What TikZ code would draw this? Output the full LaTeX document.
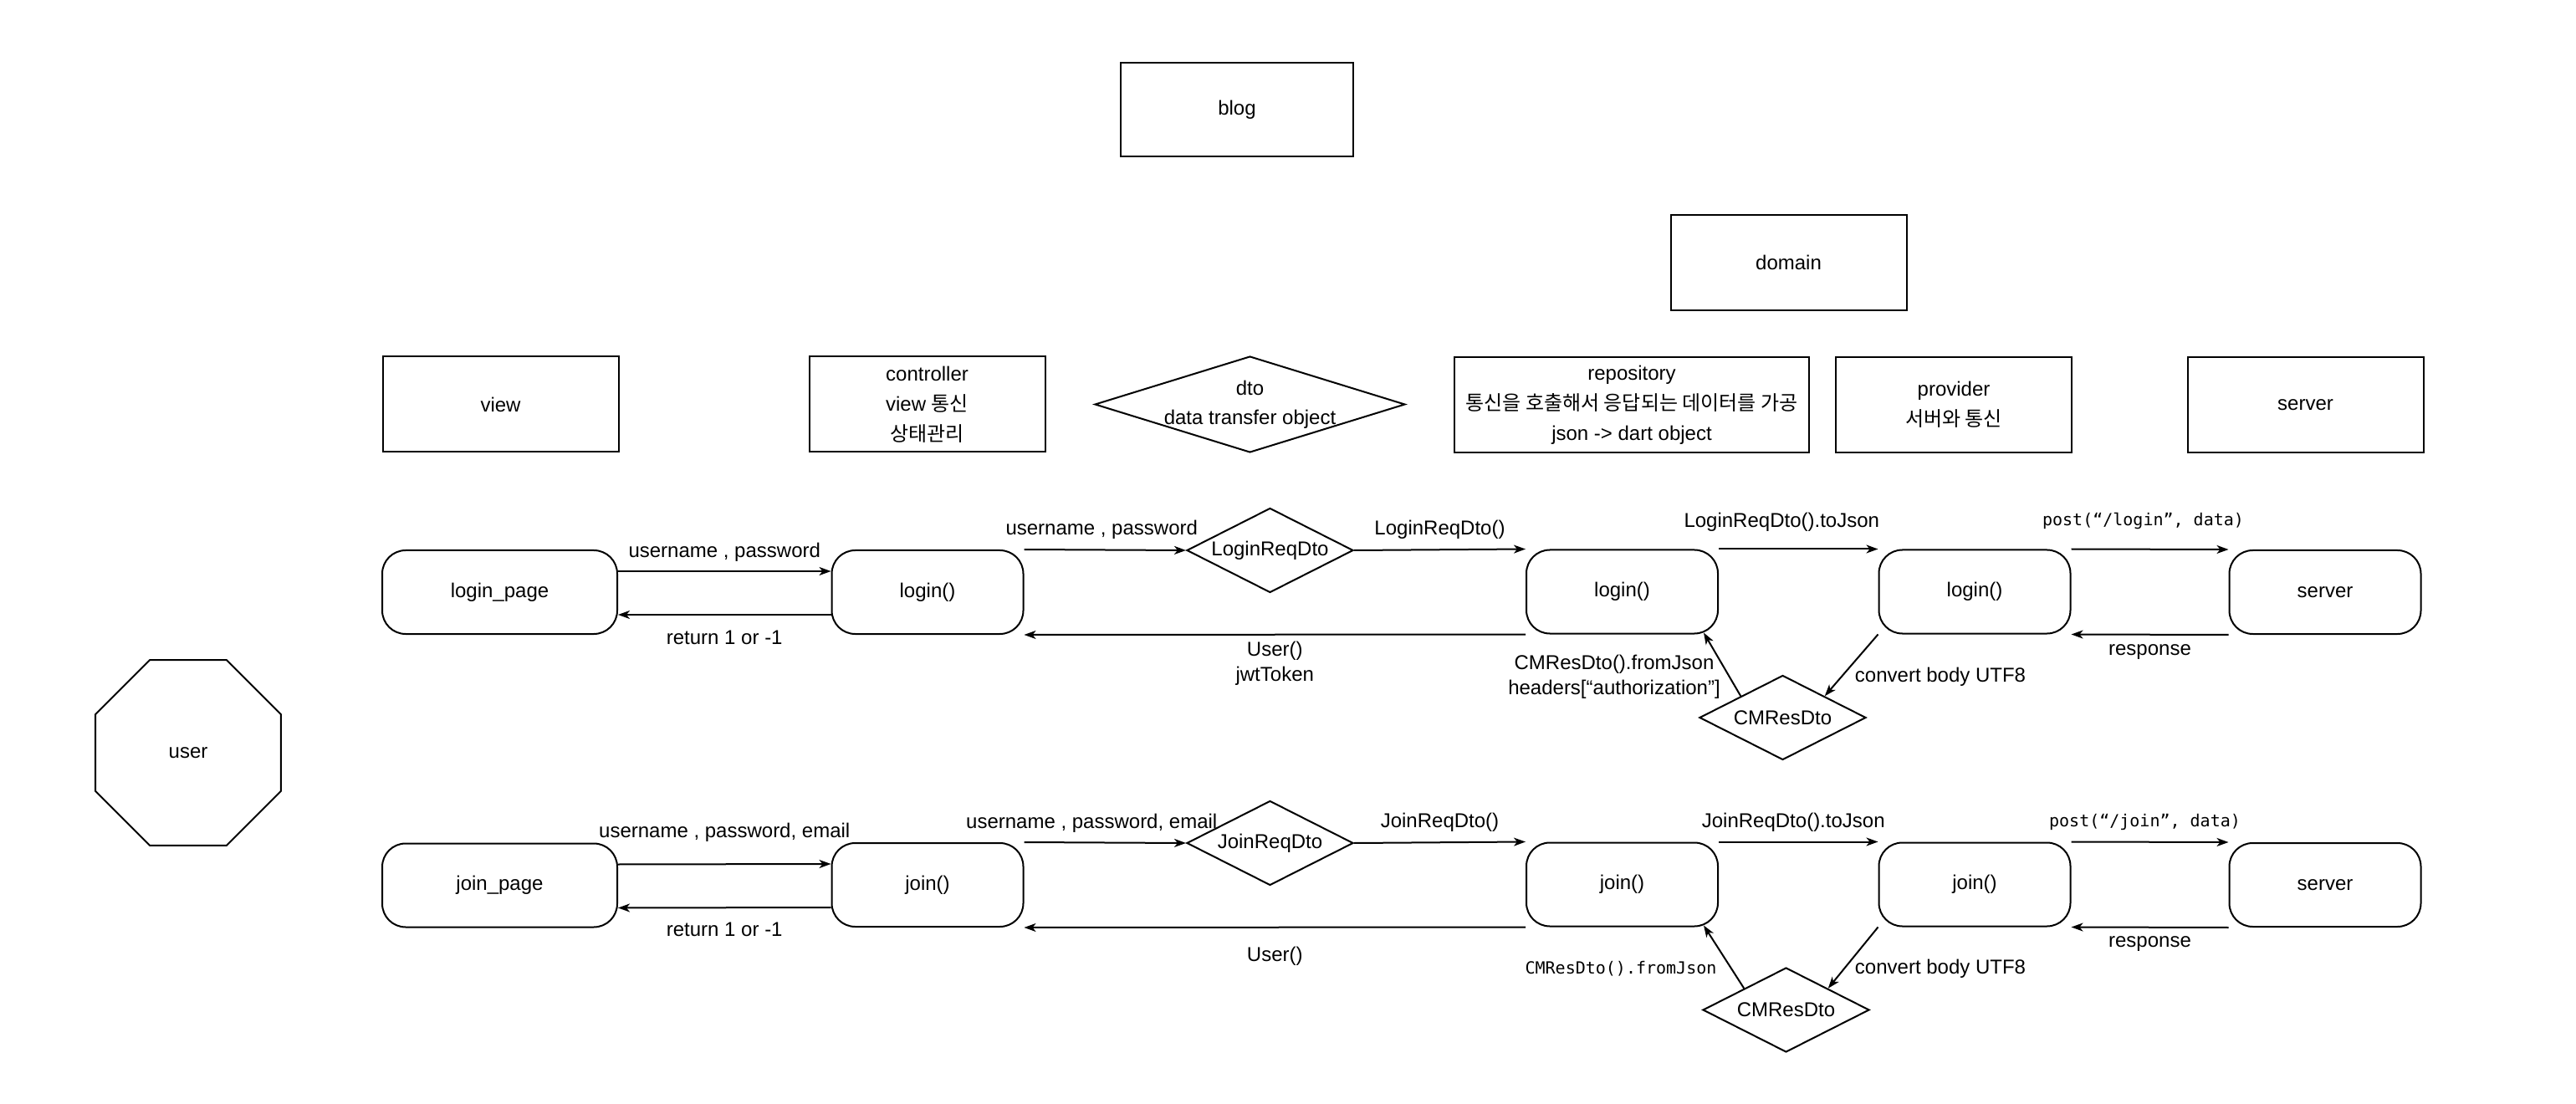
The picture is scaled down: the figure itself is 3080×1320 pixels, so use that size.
\documentclass[tikz,border=0pt]{standalone}
\usepackage{fontspec}
\setmainfont{Liberation Sans}
\setmonofont{DejaVu Sans Mono}
\newfontfamily\kofont{Noto Sans CJK KR}
\usetikzlibrary{shapes.geometric,arrows.meta}
\begin{document}
\begin{tikzpicture}[x=0.5pt,y=-0.5pt,line width=1pt,
  every node/.style={font=\fontsize{12}{18}\selectfont,inner sep=0pt},
  box/.style={draw,rectangle,minimum width=141pt,minimum height=57pt,align=center},
  rbox/.style={draw,rectangle,rounded corners=14pt,minimum width=114.5pt,minimum height=50pt},
  pbox/.style={rbox,minimum width=140.5pt},
  dia/.style={draw,diamond,shape aspect=2,minimum width=99.5pt,minimum height=50.5pt},
  arr/.style={-{Stealth[length=7pt,width=5pt,inset=2pt]}},
  lbl/.style={font=\fontsize{12}{15}\selectfont,align=center},
  code/.style={font=\ttfamily\fontsize{10}{12}\selectfont}]
\fill[white] (0,0) rectangle (3080,1320);
\useasboundingbox (0,0) rectangle (3080,1320);
% top layer boxes
\node[box,minimum width=139pt,minimum height=56pt] (blog) at (1479,131) {blog};
\node[box] (domain) at (2138.5,314) {domain};
\node[box] (view) at (598.5,483.5) {view};
\node[box] (ctrl) at (1108.5,483.5) {controller\\view {\kofont 통신}\\{\kofont 상태관리}};
\node[draw,diamond,minimum width=185.5pt,minimum height=57.5pt] (dto) at (1494.5,483.5) {};
\node[align=center,font=\fontsize{12}{17.5}\selectfont] (dtotext) at (dto.center) {dto\\data transfer object};
\node[box,minimum width=212pt] (repo) at (1951,484) {repository\\{\kofont 통신을 호출해서 응답되는 데이터를 가공}\\json -> dart object};
\node[box] (prov) at (2336,484) {provider\\{\kofont 서버와 통신}};
\node[box] (srv) at (2756.5,484) {server};
% user
\node[draw,regular polygon,regular polygon sides=8,minimum size=120pt] (user) at (225,900) {user};
% login row
\node[pbox] (lpage) at (597.5,708) {login\_page};
\node[rbox] (lctrl) at (1109,708) {login()};
\node[dia] (ldto) at (1518.5,658) {LoginReqDto};
\node[rbox] (lrepo) at (1939.5,707.5) {login()};
\node[rbox] (lprov) at (2361,707.5) {login()};
\node[rbox] (lsrv) at (2780,708) {server};
\node[dia] (lcm) at (2131.5,858) {CMResDto};
% join row
\node[pbox] (jpage) at (597.5,1058.5) {join\_page};
\node[rbox] (jctrl) at (1109,1058) {join()};
\node[dia] (jdto) at (1518.5,1008) {JoinReqDto};
\node[rbox] (jrepo) at (1939.5,1057.5) {join()};
\node[rbox] (jprov) at (2361,1057.5) {join()};
\node[rbox] (jsrv) at (2780,1058) {server};
\node[dia] (jcm) at (2135.5,1207.5) {CMResDto};
% login connectors
\draw[arr] ([yshift=-13pt]lpage.north east) -- node[midway,lbl,yshift=11.5pt] (l1) {username , password} ([yshift=-13pt]lctrl.north west);
\draw[arr] ([yshift=12pt]lctrl.south west) -- node[midway,lbl,yshift=-13.5pt] (l2) {return 1 or -1} ([yshift=12pt]lpage.south east);
\draw[arr] (lctrl.north east) -- node[midway,lbl,yshift=12pt,xshift=-2pt] (l3) {username , password} (ldto.west);
\draw[arr] (ldto.east) -- node[midway,lbl,yshift=12pt] (l4) {LoginReqDto()} (lrepo.north west);
\draw[arr] (lrepo.south west) -- node[midway,lbl,yshift=-17.5pt] (l5) {User()\\jwtToken} (lctrl.south east);
\draw[arr] (lrepo.north east) -- node[midway,lbl,yshift=16pt,xshift=-10pt] (l6) {LoginReqDto().toJson} (lprov.north west);
\draw[arr] (lprov.north east) -- node[midway,code,yshift=17pt,xshift=-4pt] (l7) {post(“/login”, data)} (lsrv.north west);
\draw[arr] (lsrv.south west) -- node[midway,lbl,yshift=-10.5pt] (l8) {response} (lprov.south east);
\draw[arr] (lprov.south west) -- (lcm.north east);
\draw[arr] (lcm.north west) -- ([xshift=-9pt,yshift=1pt]lrepo.south east);
\node[lbl] (l9) at (1930,809) {CMResDto().fromJson\\headers[“authorization”]};
\node[lbl] (l10) at (2320,809) {convert body UTF8};
% join connectors
\draw[arr] ([yshift=-13pt]jpage.north east) -- node[midway,lbl,yshift=19pt] (j1) {username , password, email} ([yshift=-13pt]jctrl.north west);
\draw[arr] ([yshift=12pt]jctrl.south west) -- node[midway,lbl,yshift=-13pt] (j2) {return 1 or -1} ([yshift=12pt]jpage.south east);
\draw[arr] (jctrl.north east) -- node[midway,lbl,yshift=11.5pt,xshift=-8pt] (j3) {username , password, email} (jdto.west);
\draw[arr] (jdto.east) -- node[midway,lbl,yshift=12pt] (j4) {JoinReqDto()} (jrepo.north west);
\draw[arr] (jrepo.south west) -- node[midway,lbl,yshift=-17.5pt] (j5) {User()} (jctrl.south east);
\draw[arr] (jrepo.north east) -- node[midway,lbl,yshift=11.5pt,xshift=-3pt] (j6) {JoinReqDto().toJson} (jprov.north west);
\draw[arr] (jprov.north east) -- node[midway,code,yshift=12pt,xshift=-3pt] (j7) {post(“/join”, data)} (jsrv.north west);
\draw[arr] (jsrv.south west) -- node[midway,lbl,yshift=-10pt] (j8) {response} (jprov.south east);
\draw[arr] (jprov.south west) -- (jcm.north east);
\draw[arr] (jcm.north west) -- ([xshift=-9pt,yshift=1pt]jrepo.south east);
\node[code] (j9) at (1938,1158) {CMResDto().fromJson};
\node[lbl] (j10) at (2320,1158) {convert body UTF8};
\end{tikzpicture}
\end{document}
